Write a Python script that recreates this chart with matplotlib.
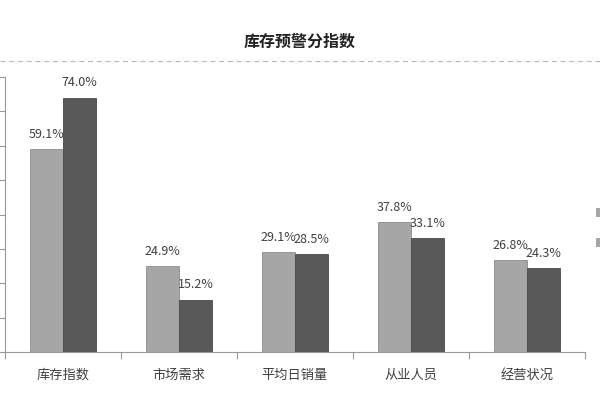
import matplotlib.pyplot as plt
from matplotlib.lines import Line2D
from matplotlib.patches import Rectangle
import numpy as np

plt.rcParams['font.family'] = ['Noto Sans CJK SC', 'DejaVu Sans']

categories = ['库存指数', '市场需求', '平均日销量', '从业人员', '经营状况']
series_a = [59.1, 24.9, 29.1, 37.8, 26.8]
series_b = [74.0, 15.2, 28.5, 33.1, 24.3]

light = '#a6a6a6'
dark = '#595959'
text_col = '#404040'

fig = plt.figure(figsize=(6, 4), dpi=100)
ax = fig.add_axes([0.008, 0.12, 0.967, 0.6875])

x = np.arange(len(categories))
w = 0.285
bars_a = ax.bar(x - w / 2, series_a, w, color=light, edgecolor='#8c8c8c', linewidth=0.6)
bars_b = ax.bar(x + w / 2, series_b, w, color=dark, edgecolor='#4a4a4a', linewidth=0.6)

for bars, vals in ((bars_a, series_a), (bars_b, series_b)):
    for b, v in zip(bars, vals):
        ax.annotate(f'{v:.1f}%', (b.get_x() + b.get_width() / 2, v),
                    xytext=(0, 6), textcoords='offset points',
                    ha='center', va='bottom', fontsize=9, color=text_col)

ax.set_xlim(-0.5, len(categories) - 0.5)
ax.set_ylim(0, 80)
ax.set_yticks(np.arange(0, 81, 10))
ax.set_yticklabels([])
ax.tick_params(axis='y', direction='out', length=4, color='#999999')

ax.set_xticks(np.arange(-0.5, len(categories), 1.0))
ax.set_xticklabels([])
ax.set_xticks(x, minor=True)
ax.set_xticklabels(categories, minor=True, fontsize=9.5, color=text_col)
ax.tick_params(axis='x', which='major', direction='out', length=5, color='#999999')
ax.tick_params(axis='x', which='minor', length=0, pad=12)

for s in ('top', 'right'):
    ax.spines[s].set_visible(False)
ax.spines['left'].set_color('#999999')
ax.spines['bottom'].set_color('#999999')

fig.text(0.5, 0.895, '库存预警分指数', ha='center', va='center', fontsize=11.5,
         fontweight='bold', color='#222222')
fig.add_artist(Line2D([0, 1], [0.847, 0.847], transform=fig.transFigure,
                      color='#bbbbbb', linestyle=(0, (4, 3)), linewidth=0.9))

# legend keys, cut off at the right edge as in the source
for yk, col in ((0.458, light), (0.383, light)):
    fig.add_artist(Rectangle((0.994, yk), 0.02, 0.022, transform=fig.transFigure,
                             facecolor=col, edgecolor='none'))

fig.savefig('out.png', dpi=100)
